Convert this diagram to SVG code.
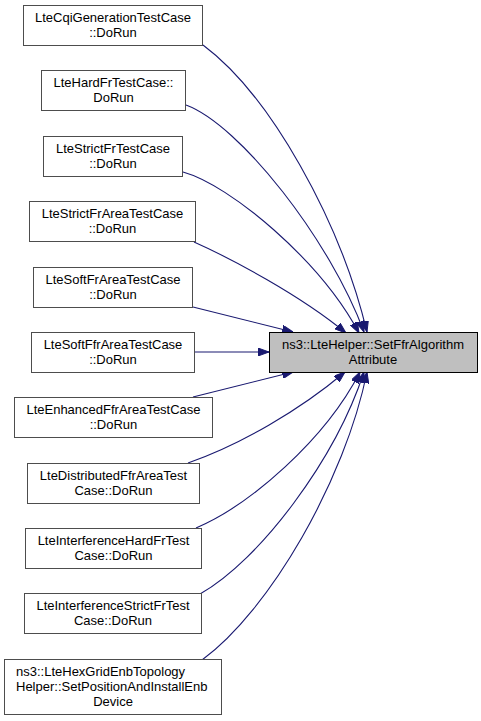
<svg xmlns="http://www.w3.org/2000/svg" width="481" height="721" viewBox="0 0 481 721">
<style>
.n rect{fill:#fff;stroke:#4d4d4d;stroke-width:1}
.n text{font-family:"Liberation Sans",Arial,sans-serif;font-size:13px;fill:#000;text-anchor:middle}
#center rect{fill:#bfbfbf;stroke:#000}
.e path{fill:none;stroke:#191970;stroke-width:1.1}
</style>
<defs>
<marker id="arr" viewBox="0 0 11 8" refX="11" refY="4" markerWidth="11" markerHeight="8" markerUnits="userSpaceOnUse" orient="auto">
<path d="M0,0 L11,4 L0,8 z" fill="#191970" stroke="#191970"/>
</marker>
</defs>
<rect width="481" height="721" fill="#fff"/>
<g class="e" id="edges" marker-end="url(#arr)">
<path d="M203,45 C270,95 340,220 367,332"/>
<path d="M186,105 C240,125 330,240 364,332"/>
<path d="M183,172 C230,185 320,260 359,333"/>
<path d="M194,242 C230,258 300,295 346,333"/>
<path d="M193,307 L293,332"/>
<path d="M195,352 L269,352"/>
<path d="M193,397 L293,372"/>
<path d="M188,463 C240,445 300,410 345,372"/>
<path d="M196,528 C250,505 325,440 360,372"/>
<path d="M200,594 C260,560 335,460 364,372"/>
<path d="M202,660 C270,610 345,480 367,372"/>
</g>
<g class="n" id="center"><rect x="269.5" y="332.5" width="208" height="40"/><text x="373" y="349">ns3::LteHelper::SetFfrAlgorithm</text><text x="373" y="364">Attribute</text></g>
<g class="n" id="n1"><rect x="23.5" y="5.5" width="179" height="40"/><text x="113" y="22">LteCqiGenerationTestCase</text><text x="113" y="37">::DoRun</text></g>
<g class="n" id="n2"><rect x="41.5" y="70.5" width="144" height="40"/><text x="113.5" y="87">LteHardFrTestCase::</text><text x="113.5" y="102">DoRun</text></g>
<g class="n" id="n3"><rect x="43.5" y="136.5" width="139" height="40"/><text x="113" y="153">LteStrictFrTestCase</text><text x="113" y="168">::DoRun</text></g>
<g class="n" id="n4"><rect x="29.5" y="201.5" width="166" height="40"/><text x="112.5" y="218">LteStrictFrAreaTestCase</text><text x="112.5" y="233">::DoRun</text></g>
<g class="n" id="n5"><rect x="33.5" y="267.5" width="159" height="40"/><text x="113" y="284">LteSoftFrAreaTestCase</text><text x="113" y="299">::DoRun</text></g>
<g class="n" id="n6"><rect x="31.5" y="332.5" width="163" height="40"/><text x="113" y="349">LteSoftFfrAreaTestCase</text><text x="113" y="364">::DoRun</text></g>
<g class="n" id="n7"><rect x="14.5" y="397.5" width="198" height="40"/><text x="113.5" y="414">LteEnhancedFfrAreaTestCase</text><text x="113.5" y="429">::DoRun</text></g>
<g class="n" id="n8"><rect x="27.5" y="463.5" width="172" height="40"/><text x="113.5" y="480">LteDistributedFfrAreaTest</text><text x="113.5" y="495">Case::DoRun</text></g>
<g class="n" id="n9"><rect x="25.5" y="528.5" width="176" height="40"/><text x="113.5" y="545">LteInterferenceHardFrTest</text><text x="113.5" y="560">Case::DoRun</text></g>
<g class="n" id="n10"><rect x="24.5" y="593.5" width="177" height="40"/><text x="113" y="610">LteInterferenceStrictFrTest</text><text x="113" y="625">Case::DoRun</text></g>
<g class="n" id="n11"><rect x="4.5" y="659.5" width="217" height="55"/><text x="16" y="676" style="text-anchor:start">ns3::LteHexGridEnbTopology</text><text x="16" y="691" style="text-anchor:start">Helper::SetPositionAndInstallEnb</text><text x="113" y="706">Device</text></g>
</svg>
